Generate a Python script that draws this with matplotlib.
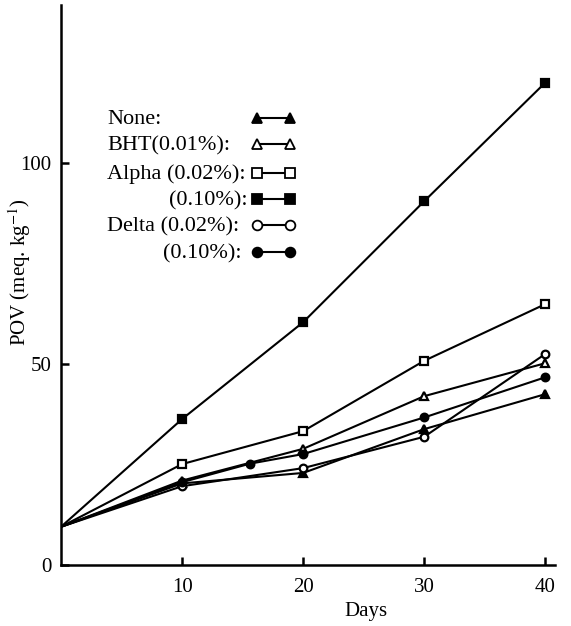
import matplotlib
matplotlib.use("Agg")
import matplotlib.pyplot as plt
from matplotlib.lines import Line2D

plt.rcParams['font.family'] = ['Liberation Serif', 'DejaVu Serif']
plt.rcParams['mathtext.fontset'] = 'stix'

# ---- data ----
labels = ["None:", "BHT(0.01%):", "Alpha (0.02%):", "(0.10%):", "Delta (0.02%):", "(0.10%):"]
markers = ["^", "^", "s", "s", "o", "o"]
filled = [True, False, False, True, False, True]

days_none = [0, 10, 20, 30, 40]
pov_none = [9.5, 20.3, 22.9, 33.8, 42.5]
days_bht = [0, 10, 20, 30, 40]
pov_bht = [9.5, 21.0, 28.9, 42.0, 50.2]
days_alpha02 = [0, 10, 20, 30, 40]
pov_alpha02 = [9.5, 25.1, 33.3, 50.8, 64.9]
days_alpha10 = [0, 10, 20, 30, 40]
pov_alpha10 = [9.5, 36.3, 60.4, 90.5, 120.0]
days_delta02 = [0, 10, 20, 30, 40]
pov_delta02 = [9.5, 19.6, 24.1, 31.9, 52.5]
days_delta10 = [0, 10, 15.6, 20, 30, 40]
pov_delta10 = [9.5, 20.6, 25.2, 27.6, 36.7, 46.7]

series_days = [days_none, days_bht, days_alpha02, days_alpha10, days_delta02, days_delta10]
series_pov = [pov_none, pov_bht, pov_alpha02, pov_alpha10, pov_delta02, pov_delta10]

x_ticks = [10, 20, 30, 40]
y_ticks = [0, 50, 100]

# ---- figure ----
W, H = 571, 626
fig = plt.figure(figsize=(W / 100, H / 100), dpi=100)
ax_l, ax_r, ax_b, ax_t = 61, 555, 565, 5
ax = fig.add_axes([ax_l / W, (H - ax_b) / H, (ax_r - ax_l) / W, (ax_b - ax_t) / H])

for d, p, m, f in zip(series_days, series_pov, markers, filled):
    ax.plot(d[1:], p[1:], color='black', lw=1.5, marker=m, markersize=5.5,
            markerfacecolor='black' if f else 'white', markeredgecolor='black',
            markeredgewidth=1.6, zorder=3)
    ax.plot(d[:2], p[:2], color='black', lw=1.5, zorder=2)

ax.set_xlim(0, 40.8)
ax.set_ylim(0, 139.3)
ax.set_xticks(x_ticks)
ax.set_yticks(y_ticks)
ax.spines['top'].set_visible(False)
ax.spines['right'].set_visible(False)
for s in ['left', 'bottom']:
    ax.spines[s].set_linewidth(1.8)
ax.tick_params(axis='x', direction='in', length=6, width=1.8, labelsize=15, pad=9)
ax.tick_params(axis='y', direction='in', length=6, width=1.8, labelsize=15, pad=7)

ax.set_xlabel("Days", fontsize=15)
ax.xaxis.set_label_coords((366 - ax_l) / (ax_r - ax_l), (ax_b - 602) / (ax_b - ax_t))
ax.set_ylabel(r"POV (meq. kg$^{-1}$)", fontsize=15)
ax.yaxis.set_label_coords((33 - ax_l) / (ax_r - ax_l), (ax_b - 272) / (ax_b - ax_t))


def axx(px):
    return (px - ax_l) / (ax_r - ax_l)


def axy(py):
    return (ax_b - py) / (ax_b - ax_t)


# ---- legend (manual layout) ----
row_y = [118, 144, 173, 199, 225, 252]
text_x = [107, 107, 107, 169, 107, 163]
m_left, m_right = 257, 290
for lab, m, f, ry, tx in zip(labels, markers, filled, row_y, text_x):
    ax.text(axx(tx), axy(ry + 6), lab, transform=ax.transAxes, fontsize=16,
            ha='left', va='baseline')
    ln = Line2D([axx(m_left), axx(m_right)], [axy(ry), axy(ry)], transform=ax.transAxes,
                color='black', lw=1.5, marker=m, markersize=7,
                markerfacecolor='black' if f else 'white', markeredgecolor='black',
                markeredgewidth=1.3)
    ax.add_line(ln)

fig.savefig("out.png", dpi=100)
